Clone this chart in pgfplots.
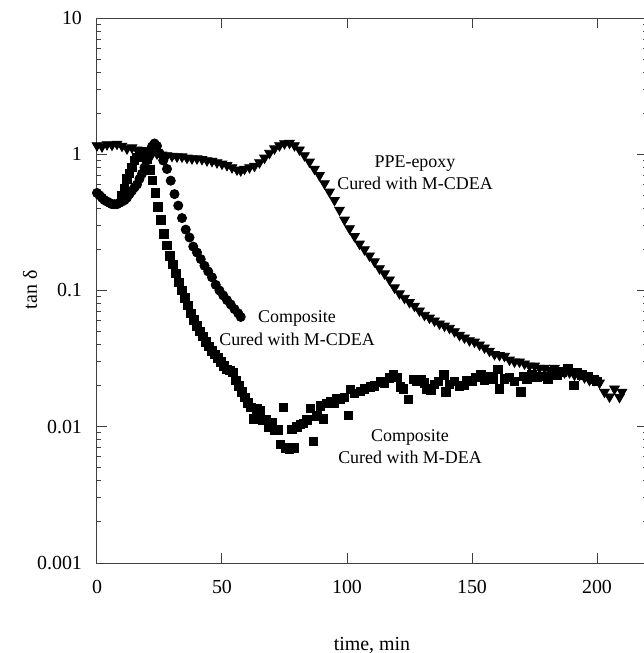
\documentclass[border=0pt]{standalone}
\usepackage{fontspec}
\setmainfont{Liberation Serif}
\usepackage{pgfplots}
\pgfplotsset{compat=1.18}
\begin{document}
\fontsize{10}{12}\selectfont
\begin{tikzpicture}
\begin{axis}[
 scale only axis, width=275bp, height=272.5bp,
 xmin=0, xmax=220, ymode=log, ymin=0.001, ymax=10,
 xtick={0,50,100,150,200},
 ytick={0.001,0.01,0.1,1,10},
 yticklabels={0.001,0.01,0.1,1,10},
 tick align=inside, major tick length=5bp, minor tick length=2bp,
 axis line style={line width=0.5bp, black!75},
 every tick/.style={black!75, line width=0.5bp},
 /pgf/number format/assume math mode=true,
 ticklabel style={font=\fontsize{10}{12}\selectfont},
 yticklabel style={xshift=-4bp},
 xticklabel style={yshift=-5.2bp},
 xlabel={time, min}, ylabel={tan δ},
 xlabel style={at={(axis description cs:0.5,-0.1505)}, anchor=center},
 ylabel style={at={(axis description cs:-0.1218,0.501)}, anchor=center},
 label style={font=\fontsize{10}{12}\selectfont},
]
% PPE-epoxy cured with M-CDEA (down triangles)
\addplot[only marks, mark=triangle*, mark size=2.8pt, mark options={rotate=180, fill=black, draw=black}] coordinates {
(0,1.16)(2,1.14)(4,1.18)(6,1.17)(8,1.19)(10,1.15)(12,1.10)(14,1.12)(16,1.08)(18,1.04)
(20,1.02)(22,1.0)(24,1.01)(26,0.99)(28,0.98)(30,0.97)(32,0.96)(34,0.96)(36,0.94)(38,0.93)
(40,0.93)(42,0.92)(44,0.90)(46,0.89)(48,0.87)(50,0.85)(52,0.83)(54,0.80)(56,0.77)(57.5,0.76)
(59,0.78)(61,0.80)(63,0.82)(65,0.87)(67,0.94)(69,1.02)(71,1.10)(73,1.16)(75,1.20)(77,1.21)
(79,1.16)(81,1.08)(83,0.98)(85,0.88)(87,0.78)(89,0.70)(91,0.61)(93,0.53)(95,0.46)(97,0.39)
(99,0.33)(101,0.285)(103,0.25)(105,0.22)(107,0.20)(109,0.18)(111,0.163)(113,0.145)(115,0.133)(117,0.12)
(119,0.105)(121,0.095)(123,0.088)(125,0.082)(127,0.077)(129,0.071)(131,0.066)(133,0.063)(135,0.060)(137,0.057)
(139,0.055)(141,0.053)(143,0.050)(145,0.047)(147,0.045)(149,0.043)(151,0.042)(153,0.040)(155,0.038)(157,0.036)
(159,0.034)(161,0.0335)(163,0.033)(165,0.031)(167,0.030)(169,0.030)(171,0.029)(173,0.028)(175,0.028)(177,0.027)
(179,0.027)(181,0.026)(183,0.027)(185,0.026)(187,0.025)(189,0.025)(191,0.024)(193,0.024)(195,0.023)(197,0.022)
(199,0.022)(201,0.021)(203,0.018)(205,0.0166)(207,0.019)(209,0.0165)(210,0.018)
};
% Composite cured with M-CDEA (circles)
\addplot[only marks, mark=*, mark size=2.3pt, mark options={fill=black, draw=black}] coordinates {
(0,0.52)(1,0.50)(2,0.48)(3,0.46)(4,0.45)(5,0.44)(6,0.43)(7,0.43)(8,0.43)(9,0.44)
(10,0.45)(11,0.46)(12,0.48)(13,0.51)(14,0.54)(15,0.57)(16,0.60)(17,0.66)(18,0.72)(19,0.80)
(20,0.90)(21,1.02)(22,1.14)(23,1.20)(24,1.15)(25,1.02)(26.5,0.90)(28,0.78)(29.5,0.64)(31,0.51)
(32.5,0.42)(34,0.34)(35.5,0.28)(37,0.245)(38.5,0.21)(40,0.19)(41.5,0.17)(43,0.152)(44.5,0.138)(46,0.125)
(47.5,0.11)(49,0.10)(50.5,0.092)(52,0.085)(53.5,0.079)(55,0.073)(56.5,0.068)(57.5,0.064)
};
% Composite cured with M-DEA (squares)
\addplot[only marks, mark=square*, mark size=2.1pt, mark options={fill=black, draw=black}] coordinates {
(10,0.50)(11,0.56)(12,0.66)(13,0.72)(14,0.80)(15,0.90)(16,0.95)(17,0.99)(18,1.02)(19,1.05)
(20,0.92)(21.2,0.77)(22.2,0.64)(23.3,0.52)(24.4,0.41)(25.6,0.33)(26.8,0.26)(28,0.215)(29.2,0.18)(30.4,0.155)
(31.6,0.133)(32.8,0.115)(34,0.100)(35.2,0.088)(36.4,0.078)(37.6,0.068)(38.8,0.061)(40,0.055)(41.2,0.050)(42.4,0.046)
(43.6,0.042)(44.8,0.039)(46,0.036)(47.2,0.034)(48.4,0.032)(49.6,0.030)(50.8,0.028)(52,0.0265)(53.2,0.026)(54.4,0.025)
(55.6,0.022)(56.8,0.020)(58,0.018)(59.2,0.0165)(60.4,0.015)(61.6,0.0139)(62.8,0.0114)(64,0.0135)(65.2,0.0132)(66.4,0.0112)
(67.6,0.0112)(68.8,0.0100)(70,0.0108)(71.2,0.0095)(72.4,0.0095)(73.3,0.0074)(74.5,0.0139)(75.6,0.0070)(77,0.0069)(78,0.0096)
(79,0.0070)(80,0.0100)(81.4,0.0104)(82.6,0.0106)(84,0.0112)(85.4,0.0137)(86.6,0.0078)(88,0.0120)(89.4,0.0142)(90.6,0.0114)
(92,0.0148)(93.4,0.0152)(95,0.0150)(96,0.0160)(97.4,0.0158)(99,0.0165)(100.6,0.0121)(101.4,0.0189)(103,0.0175)(105.4,0.0181)
(107,0.0190)(109.4,0.0196)(111,0.0200)(113.4,0.0213)(115,0.0210)(117,0.0228)(118.6,0.0242)(120,0.0230)(121.4,0.0196)(122.6,0.0190)
(124.6,0.0158)(126.7,0.0222)(128,0.0215)(129.5,0.0222)(131,0.0210)(132,0.0190)(133.5,0.0187)(135,0.0205)(136.5,0.0215)(138.7,0.0240)
(139.5,0.0180)(141,0.0205)(143,0.0215)(145,0.0200)(146.7,0.0202)(148,0.0220)(150,0.0215)(151.5,0.0230)(153.5,0.0240)(155,0.0220)
(157,0.0235)(158.5,0.0225)(160.3,0.0263)(161,0.0190)(163,0.0225)(165,0.0230)(167,0.0215)(169.5,0.0180)(170.7,0.0233)(172,0.0225)
(174,0.0240)(176,0.0230)(178,0.0235)(180.4,0.0223)(182,0.0245)(184,0.0240)(186,0.0250)(188.4,0.0267)(190.8,0.0202)(192,0.0250)
(194,0.0240)(196.4,0.0233)(198.8,0.0222)(200,0.0215)
};
\node[align=center, font=\fontsize{9}{10.8}\selectfont] at (axis cs:127.2,0.735) {PPE-epoxy\\Cured with M-CDEA};
\node[align=center, font=\fontsize{9}{11.5}\selectfont] at (axis cs:80,0.0526) {Composite\\Cured with M-CDEA};
\node[align=center, font=\fontsize{9}{10.8}\selectfont] at (axis cs:125.2,0.00716) {Composite\\Cured with M-DEA};
\end{axis}
\pgfresetboundingbox
\path ([xshift=-48.5bp,yshift=-45bp]current axis.south west) rectangle ([xshift=-1.5bp,yshift=9bp]current axis.north east);
\end{tikzpicture}
\end{document}
